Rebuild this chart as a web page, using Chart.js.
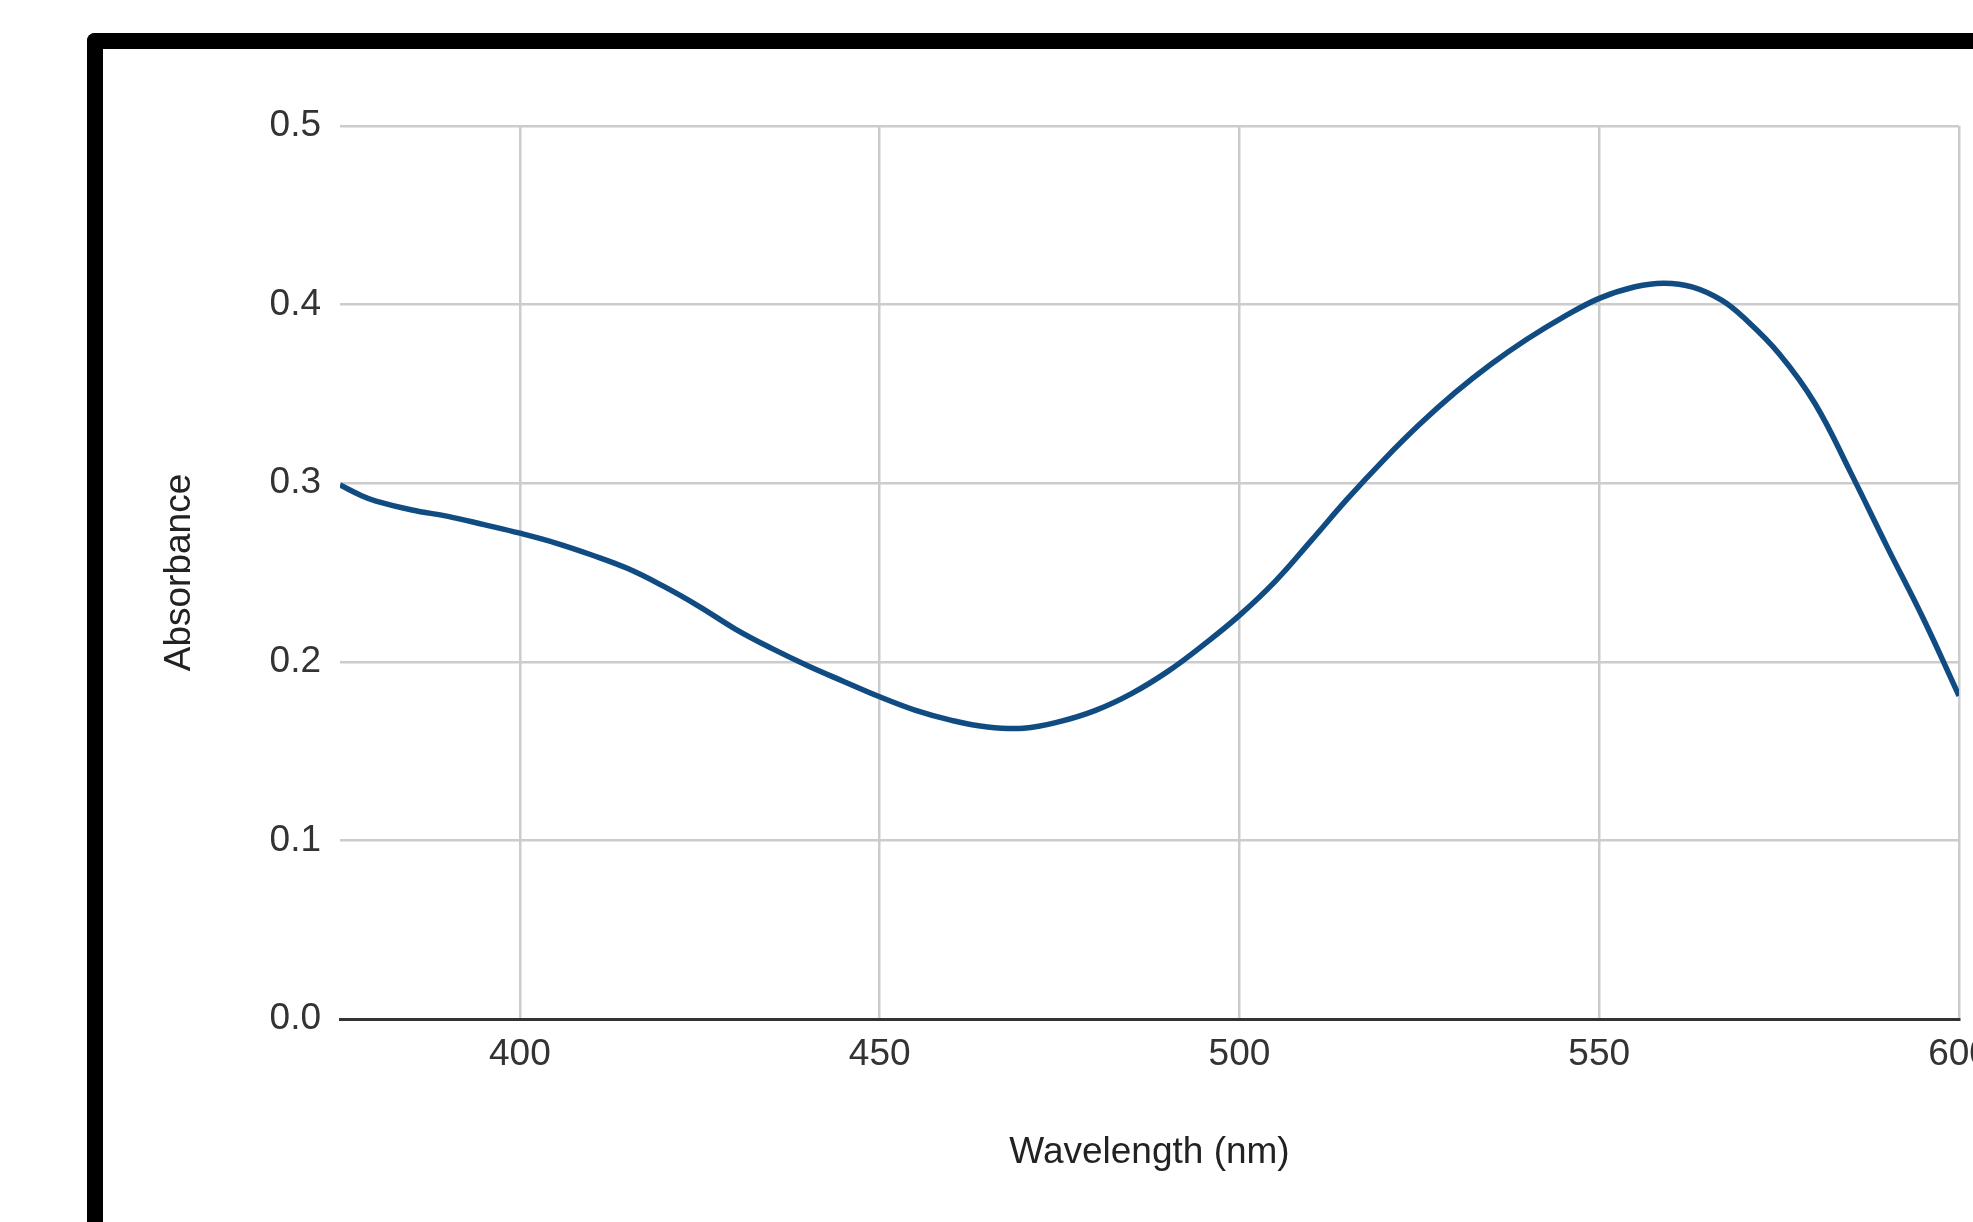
<!DOCTYPE html>
<html>
<head>
<meta charset="utf-8">
<script src="https://cdn.jsdelivr.net/npm/chart.js@4"></script>
<style>
    html, body { margin: 0; padding: 0; background: #fff; overflow: hidden; }
    #wrap { position: relative; width: 1973px; height: 1222px; }
    #frame {
        position: absolute; left: 87px; top: 33px; width: 2000px; height: 1300px;
        border-left: 16px solid #000; border-top: 16px solid #000;
        border-top-left-radius: 8px; box-sizing: border-box;
    }
    #chartBox { position: absolute; left: 0; top: 0; width: 1973px; height: 1222px; }
</style>
</head>
<body>
<div id="wrap">
    <div id="frame"></div>
    <div id="chartBox"><canvas id="spectrumChart"></canvas></div>
</div>
<script>
// Absorbance spectrum
const wavelengths = [375, 378, 380, 385, 390, 395, 400, 405, 410, 415, 420, 425, 430, 435, 440, 445,
    450, 455, 460, 465, 470, 475, 480, 485, 490, 495, 500, 505, 510, 515, 520, 525, 530, 535, 540,
    545, 550, 555, 559, 563, 567, 570, 575, 580, 585, 590, 595, 600];
const absorbance = [0.299, 0.293, 0.290, 0.285, 0.2814, 0.2768, 0.272, 0.2665, 0.2598, 0.2522, 0.2422,
    0.2308, 0.2182, 0.2075, 0.1978, 0.189, 0.1804, 0.1728, 0.1672, 0.1635, 0.1628, 0.1665, 0.1728,
    0.1822, 0.1945, 0.2095, 0.226, 0.2452, 0.268, 0.2912, 0.3128, 0.3328, 0.3508, 0.3667, 0.3807,
    0.393, 0.4035, 0.41, 0.412, 0.4098, 0.4025, 0.393, 0.3725, 0.3445, 0.3055, 0.2645, 0.2245, 0.181];
const xTicks = [400, 450, 500, 550, 600];
const yTicks = [0, 0.1, 0.2, 0.3, 0.4, 0.5];

const fontFamily = "'Liberation Sans', Arial, sans-serif";

function renderSpectrum() {
    const ctx = document.getElementById('spectrumChart').getContext('2d');

    new Chart(ctx, {
        type: 'line',
        data: {
            datasets: [{
                label: 'Absorbance',
                data: wavelengths.map((w, i) => ({ x: w, y: absorbance[i] })),
                borderColor: '#104c82',
                borderWidth: 5.5,
                pointRadius: 0,
                tension: 0.4,
                fill: false
            }]
        },
        options: {
            responsive: true,
            maintainAspectRatio: false,
            animation: false,
            layout: { padding: { top: 126, right: 14, bottom: 0, left: 0 } },
            plugins: { legend: { display: false }, tooltip: { enabled: false } },
            scales: {
                x: {
                    type: 'linear',
                    min: 375,
                    max: 600,
                    afterBuildTicks: scale => { scale.ticks = xTicks.map(v => ({ value: v })); },
                    afterFit: scale => { scale.height = 203; scale.paddingLeft = 0; scale.paddingRight = 0; },
                    grid: { color: '#cccccc', lineWidth: 2.5, drawTicks: false },
                    border: { display: true, color: '#333333', width: 3 },
                    ticks: {
                        padding: 14,
                        maxRotation: 0,
                        color: '#333333',
                        font: { family: fontFamily, size: 37 }
                    },
                    title: {
                        display: true,
                        text: 'Wavelength (nm)',
                        color: '#222222',
                        font: { family: fontFamily, size: 37 },
                        padding: { top: 0, bottom: 47 }
                    }
                },
                y: {
                    min: 0,
                    max: 0.5,
                    afterBuildTicks: scale => { scale.ticks = yTicks.map(v => ({ value: v })); },
                    afterFit: scale => { scale.width = 340; scale.paddingTop = 0; scale.paddingBottom = 0; },
                    grid: { color: '#cccccc', lineWidth: 2.5, drawTicks: false },
                    border: { display: false },
                    ticks: {
                        padding: 19,
                        color: '#333333',
                        font: { family: fontFamily, size: 37 },
                        callback: v => v.toFixed(1)
                    },
                    title: {
                        display: true,
                        text: 'Absorbance',
                        color: '#222222',
                        font: { family: fontFamily, size: 37 },
                        padding: { top: 158, bottom: 0 }
                    }
                }
            }
        }
    });
}

document.addEventListener('DOMContentLoaded', renderSpectrum);
</script>
</body>
</html>
